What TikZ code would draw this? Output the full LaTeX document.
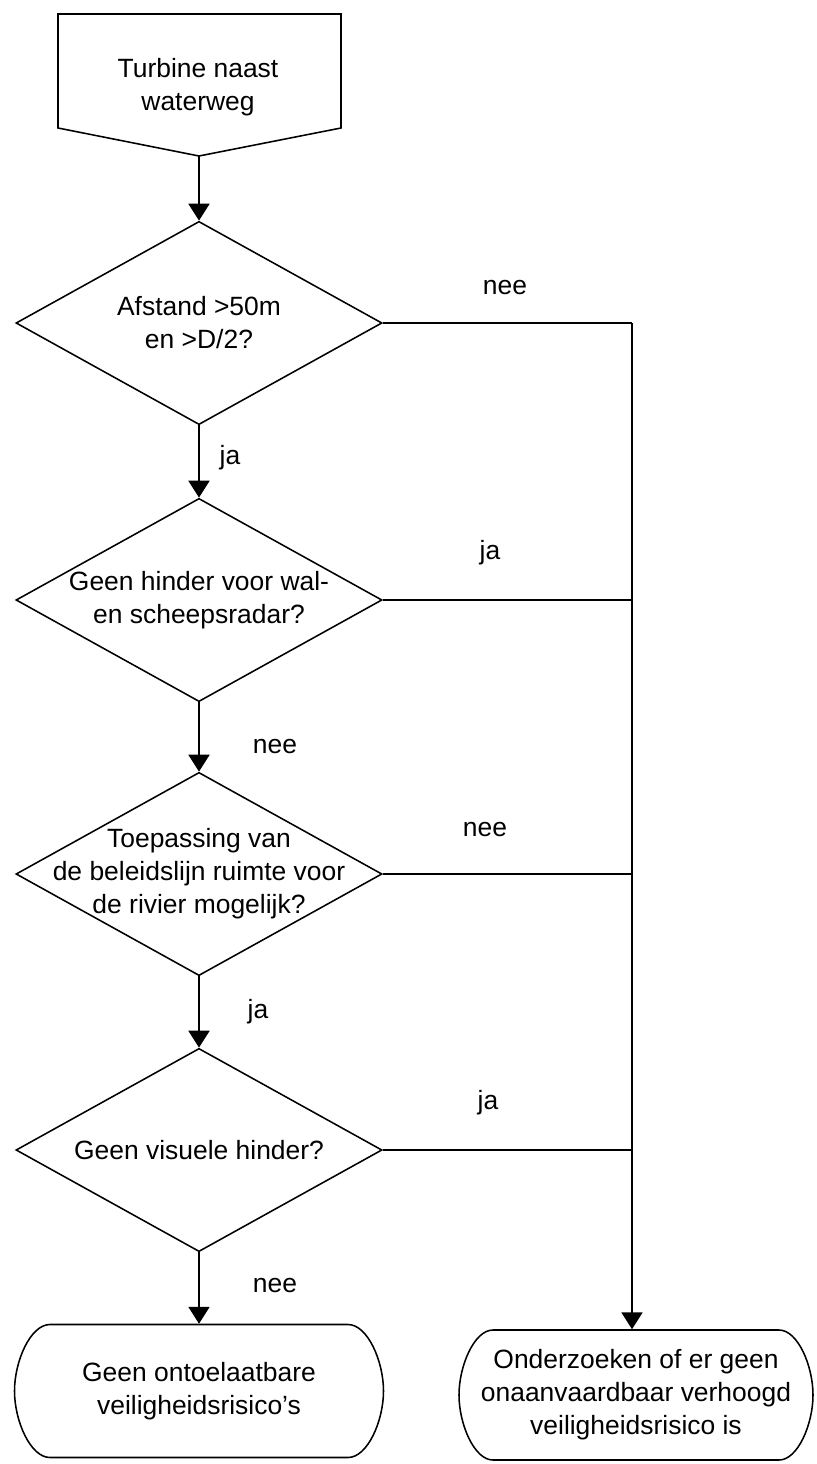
\documentclass[tikz,border=0pt]{standalone}
\usepackage{fontspec}
\setmainfont{Liberation Sans}
\usetikzlibrary{shapes.geometric,arrows.meta}

\begin{document}
\begin{tikzpicture}[x=0.025cm,y=-0.025cm,line width=1.1pt,
  font=\fontsize{18.8}{23.5}\selectfont,
  txt/.style={align=center,inner sep=0pt},
  decision/.style={draw,diamond,minimum width=9.15cm,minimum height=5.08cm,inner sep=0pt},
  endbox/.style={rectangle,align=center,inner sep=0pt},
  arr/.style={-{Triangle[length=12pt,width=15pt]}}]

  \useasboundingbox (0,0) rectangle (816,1464);

  \draw (58,14) -- (341,14) -- (341,128) -- (199,156) -- (58,128) -- cycle;
  \node[txt] at (198,87) (start) {Turbine naast\\waterweg};
  \coordinate (start-tip) at (199,156);

  \node[decision,label={[txt]center:{Afstand >50m\\en >D/2?}}] at (199,323) (d1) {};
  \node[decision,label={[txt]center:{Geen hinder voor wal-\\en scheepsradar?}}] at (199,600) (d2) {};
  \node[decision,label={[txt]center:{Toepassing van\\de beleidslijn ruimte voor\\de rivier mogelijk?}}] at (199,874) (d3) {};
  \node[decision,label={[txt]center:{Geen visuele hinder?}}] at (199,1150) (d4) {};

  \node[endbox,minimum width=9.225cm,minimum height=3.325cm] at (199,1391) (t1)
    {Geen ontoelaatbare\\veiligheidsrisico’s};
  \node[endbox,minimum width=8.85cm,minimum height=3.25cm] at (636,1395) (t2)
    {Onderzoeken of er geen\\onaanvaardbaar verhoogd\\veiligheidsrisico is};

  % terminator outlines
  \draw[shift={(t1.center)}] (-149,-66.5) -- (149,-66.5)
    .. controls (168.6,-66.5) and (184.5,-29.8) .. (184.5,0)
    .. controls (184.5,29.8) and (168.6,66.5) .. (149,66.5) -- (-149,66.5)
    .. controls (-168.6,66.5) and (-184.5,29.8) .. (-184.5,0)
    .. controls (-184.5,-29.8) and (-168.6,-66.5) .. (-149,-66.5) -- cycle;
  \draw[shift={(t2.center)}] (-143,-65) -- (143,-65)
    .. controls (161.8,-65) and (177,-29.1) .. (177,0)
    .. controls (177,29.1) and (161.8,65) .. (143,65) -- (-143,65)
    .. controls (-161.8,65) and (-177,29.1) .. (-177,0)
    .. controls (-177,-29.1) and (-161.8,-65) .. (-143,-65) -- cycle;

  \coordinate (bus) at (632,323);

  \draw[arr] (start-tip) -- (d1.north);
  \draw[arr] (d1.south) -- (d2.north);
  \draw[arr] (d2.south) -- (d3.north);
  \draw[arr] (d3.south) -- (d4.north);
  \draw[arr] (d4.south) -- (t1.north);

  \draw (d1.east) -- (bus);
  \draw (d2.east) -- (d2.east -| bus);
  \draw (d3.east) -- (d3.east -| bus);
  \draw (d4.east) -- (d4.east -| bus);
  \draw[arr] (bus) -- (bus |- t2.north);

  \node[txt] at (505,288) (l1) {nee};
  \node[txt] at (230,458) (l2) {ja};
  \node[txt] at (490,553) (l3) {ja};
  \node[txt] at (275,747) (l4) {nee};
  \node[txt] at (485,830) (l5) {nee};
  \node[txt] at (258,1012) (l6) {ja};
  \node[txt] at (488,1103) (l7) {ja};
  \node[txt] at (275,1285) (l8) {nee};

\end{tikzpicture}
\end{document}
